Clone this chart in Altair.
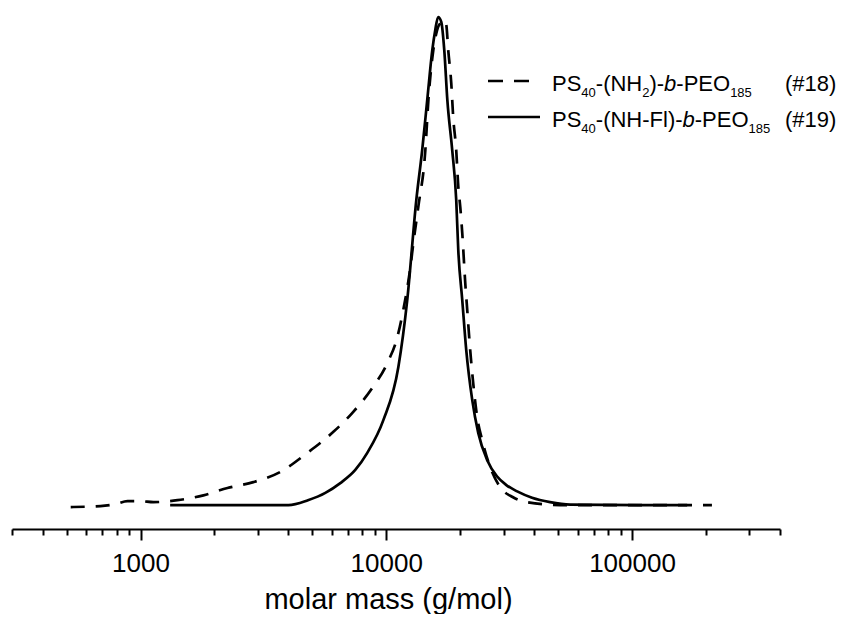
import altair as alt
import pandas as pd

# ---- data ----
solid_mass = [1320, 2300, 4000, 4800, 5650, 6500, 7480, 8370, 9730, 11200, 12170, 13250,
              14000, 14680, 15390, 15820, 16260, 16740, 17220, 17720, 18550, 19260, 19630,
              20380, 21150, 22380, 23670, 25750, 28200, 30800, 34100, 39190, 46400, 56000, 107900, 167600]
solid_int = [0.0, 0.0, 0.0, 0.010, 0.025, 0.045, 0.072, 0.107, 0.174, 0.283, 0.420, 0.625,
             0.727, 0.830, 0.932, 0.973, 1.0, 0.99, 0.932, 0.830, 0.727, 0.625, 0.523,
             0.420, 0.318, 0.215, 0.148, 0.092, 0.059, 0.041, 0.028, 0.015, 0.006, 0.001, 0.0, 0.0]

dash_mass = [520, 687, 791, 886, 1000, 1129, 1414, 1803, 2259, 2878, 3706, 4776, 6093, 7280,
             8775, 10100, 11090, 11730, 12540, 12890, 13500, 14420, 14840, 15540, 16100,
             16740, 17070, 17540, 17870, 18380, 18720, 19260, 19640, 20000, 20380, 20960,
             21350, 21950, 22580, 23440, 24560, 26460, 29060, 32800, 37400, 50900, 74100, 211400]
dash_int = [-0.004, -0.002, 0.002, 0.008, 0.008, 0.006, 0.010, 0.020, 0.035, 0.047, 0.068,
            0.107, 0.150, 0.189, 0.240, 0.291, 0.344, 0.400, 0.488, 0.537, 0.611, 0.727,
            0.830, 0.932, 0.973, 0.990, 0.994, 0.984, 0.932, 0.865, 0.795, 0.727, 0.652,
            0.611, 0.557, 0.455, 0.400, 0.318, 0.250, 0.180, 0.133, 0.078, 0.037, 0.016,
            0.006, 0.0, 0.0, 0.0]

major_ticks = [1000, 10000, 100000]
minor_ticks = [300, 400, 500, 600, 700, 800, 900,
               2000, 3000, 4000, 5000, 6000, 7000, 8000, 9000,
               20000, 30000, 40000, 50000, 60000, 70000, 80000, 90000,
               200000, 300000, 400000]
x_domain = [300, 400000]
y_domain = [-0.049, 1.0102]

x_title = "molar mass (g/mol)"
legend_rows = [
    [("PS", "n"), ("40", "s"), ("-(NH", "n"), ("2", "s"), (")-", "n"), ("b", "i"), ("-PEO", "n"), ("185", "s")],
    [("PS", "n"), ("40", "s"), ("-(NH-Fl)-", "n"), ("b", "i"), ("-PEO", "n"), ("185", "s")],
]
legend_ids = ["(#18)", "(#19)"]

FONT = "Liberation Sans"
W, H = 768, 517
LW = 2.7

solid_df = pd.DataFrame({"mass": solid_mass, "intensity": solid_int})
dash_df = pd.DataFrame({"mass": dash_mass, "intensity": dash_int})

xscale = alt.Scale(type="log", domain=x_domain, nice=False)
yscale = alt.Scale(domain=y_domain, nice=False, zero=False)

all_ticks = sorted(major_ticks + minor_ticks)
major_test = " || ".join(f"datum.value == {v}" for v in major_ticks)

xaxis = alt.Axis(
    values=all_ticks,
    format="d",
    labelExpr=f"({major_test}) ? datum.label : ''",
    tickSize={"condition": {"test": major_test, "value": 11}, "value": 6},
    tickWidth=2,
    tickColor="black",
    domainColor="black",
    domainWidth=2,
    labelFont=FONT,
    labelFontSize=26,
    labelColor="black",
    labelPadding=10,
    labelFlush=False,
    labelOverlap=False,
    grid=False,
    title=x_title,
    titleFont=FONT,
    titleFontSize=29,
    titleFontWeight="normal",
    titleColor="black",
    titlePadding=9,
    titleX=376,
    titleAlign="center",
)

solid = alt.Chart(solid_df).mark_line(color="black", strokeWidth=LW, interpolate="monotone").encode(
    x=alt.X("mass:Q", scale=xscale, axis=xaxis),
    y=alt.Y("intensity:Q", scale=yscale, axis=None),
)
dashed = alt.Chart(dash_df).mark_line(color="black", strokeWidth=LW, strokeDash=[14, 11],
                                      interpolate="monotone").encode(
    x=alt.X("mass:Q", scale=xscale, axis=xaxis),
    y=alt.Y("intensity:Q", scale=yscale, axis=None),
)

# ---- legend (manual, to allow subscripts/italic) ----
AW = {'P': .667, 'S': .667, '4': .556, '0': .556, '-': .333, '(': .333, 'N': .722, 'H': .722,
      '2': .556, ')': .333, 'b': .556, 'E': .667, 'O': .778, '1': .556, '8': .556, '5': .556,
      'F': .611, 'l': .222, '#': .556, '9': .556}
MAIN, SUB = 22, 13
LX0 = 540
ID_X = 773
BASE = [79, 115]
SUB_DY = 6

legend_layers = []
sample_df = pd.DataFrame({"k": [0]})
legend_layers.append(alt.Chart(sample_df).mark_rule(color="black", strokeWidth=LW, strokeDash=[15, 11]).encode(
    x=alt.value(476), x2=alt.value(517), y=alt.value(69)))
legend_layers.append(alt.Chart(sample_df).mark_rule(color="black", strokeWidth=LW).encode(
    x=alt.value(476), x2=alt.value(528), y=alt.value(105)))

for r, segs in enumerate(legend_rows):
    x = LX0
    for txt, kind in segs:
        size = SUB if kind == "s" else MAIN
        ybase = BASE[r] + (SUB_DY if kind == "s" else 0)
        legend_layers.append(
            alt.Chart(sample_df).mark_text(
                text=txt, font=FONT, fontSize=size, align="left", baseline="alphabetic",
                color="black", fontStyle="italic" if kind == "i" else "normal",
            ).encode(x=alt.value(x), y=alt.value(ybase))
        )
        x += sum(AW[c] for c in txt) * size
    legend_layers.append(
        alt.Chart(sample_df).mark_text(
            text=legend_ids[r], font=FONT, fontSize=MAIN, align="left", baseline="alphabetic",
            color="black").encode(x=alt.value(ID_X), y=alt.value(BASE[r]))
    )

chart = alt.layer(dashed, solid, *legend_layers).properties(
    width=W, height=H,
    padding={"left": 4, "top": 4, "right": 60, "bottom": 85},
    autosize=alt.AutoSizeParams(type="none"),
    background="white",
).configure_view(stroke=None)

chart.save("out.html", embed_options={"renderer": "svg", "actions": False})
